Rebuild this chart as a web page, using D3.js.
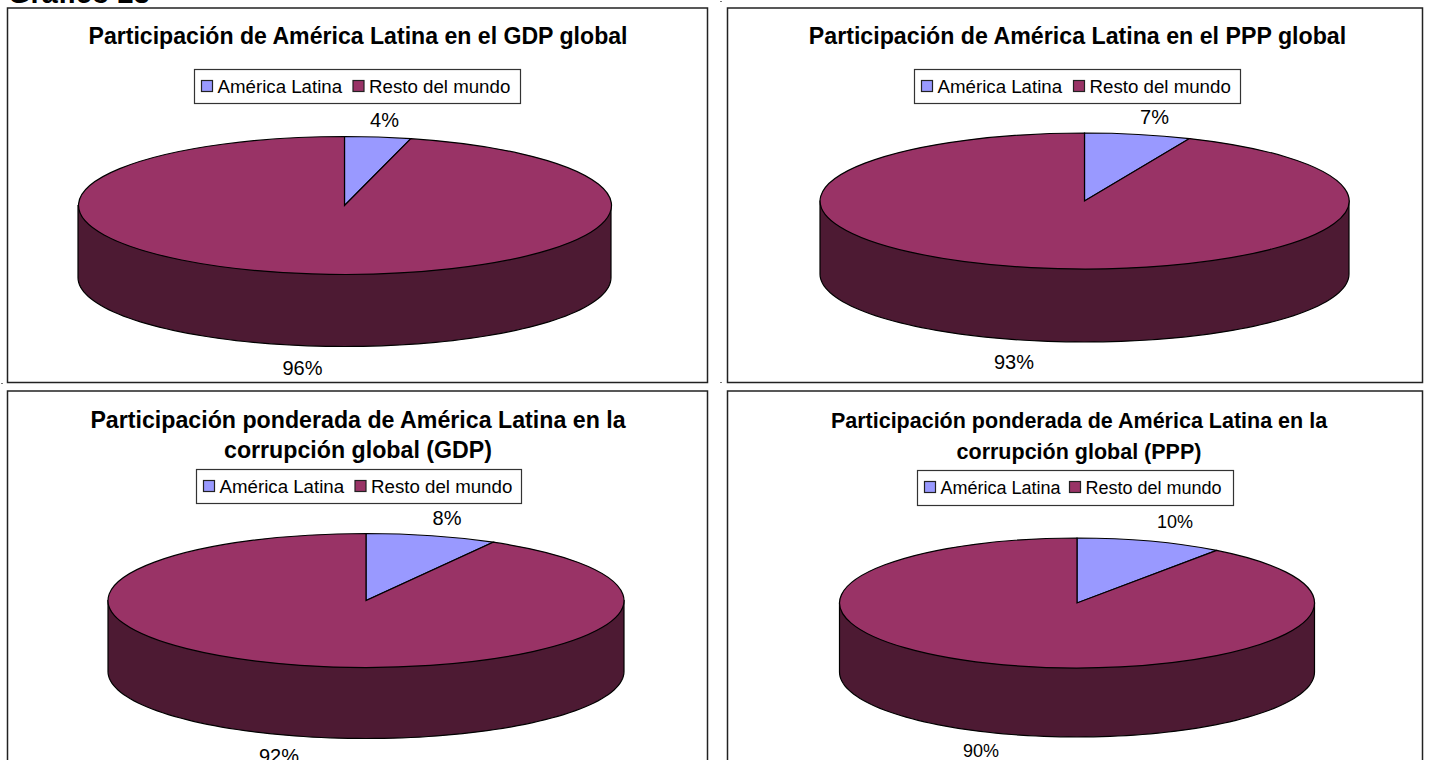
<!DOCTYPE html>
<html>
<head>
<meta charset="utf-8">
<script src="https://cdn.jsdelivr.net/npm/d3@7"></script>
<style>
  html, body { margin: 0; padding: 0; background: #fff; overflow: hidden; }
  text { font-family: "Liberation Sans", Arial, sans-serif; fill: #000; }
</style>
</head>
<body>
<script>
// values
const titles = [
    ["Participación de América Latina en el GDP global"],
    ["Participación de América Latina en el PPP global"],
    ["Participación ponderada de América Latina en la", "corrupción global (GDP)"],
    ["Participación ponderada de América Latina en la", "corrupción global (PPP)"]
]
const categories = ["América Latina", "Resto del mundo"]
const latamShare = [4, 6.5, 8.2, 10]
const restShare = [96, 93.5, 91.8, 90]
const latamLabels = ["4%", "7%", "8%", "10%"]
const restLabels = ["96%", "93%", "92%", "90%"]

const colors = d3.scaleOrdinal().domain(categories).range(["#9999ff", "#993366"])
const sideColor = "#4d1a33"

// layout of each panel
const panels = [
    { x: 7.5, y: 8, w: 700, h: 374.5, cx: 344.5, cy: 205.5, rx: 266.5, ry: 69, depth: 72,
      titleX: 358, titleY: [44], titleSize: 23.1,
      legend: [194, 69, 326, 34], second: 158.5, legendSize: 18.7,
      labelSize: 20, latam: [384.5, 127], rest: [302.5, 375] },
    { x: 727.5, y: 8, w: 695, h: 374.5, cx: 1084.5, cy: 201, rx: 264.5, ry: 68, depth: 73,
      titleX: 1077.5, titleY: [44], titleSize: 23.2,
      legend: [914, 69, 326, 34], second: 159, legendSize: 18.7,
      labelSize: 20, latam: [1154.5, 124], rest: [1014, 368.5] },
    { x: 7.5, y: 391, w: 700, h: 380, cx: 366, cy: 600.5, rx: 258, ry: 67, depth: 71,
      titleX: 358, titleY: [428, 458], titleSize: 23.2,
      legend: [196, 469, 325, 34], second: 158.5, legendSize: 18.7,
      labelSize: 20, latam: [447, 525], rest: [279, 762.5] },
    { x: 727.5, y: 391, w: 695, h: 380, cx: 1077, cy: 603, rx: 237.5, ry: 65, depth: 69,
      titleX: 1079, titleY: [428, 459], titleSize: 21.5,
      legend: [917, 470, 316, 35], second: 152, legendSize: 18,
      labelSize: 18, latam: [1175, 528], rest: [981, 757] }
]

const svg = d3.select("body")
    .append("svg")
    .attr("width", 1431)
    .attr("height", 760)

// clipped heading at the very top of the page
svg.append("text")
    .attr("x", 8)
    .attr("y", 2.5)
    .attr("font-size", 29)
    .attr("font-weight", "bold")
    .text("Gráfico 23")

// stray specks between the panels
svg.selectAll("rect.speck")
    .data([[1, 383], [720, 382], [720, 1]])
    .enter()
    .append("rect")
    .attr("class", "speck")
    .attr("x", d => d[0])
    .attr("y", d => d[1])
    .attr("width", 2)
    .attr("height", 1)
    .attr("fill", "#777")

const pie = d3.pie().sort(null)
const arc = d3.arc().innerRadius(0).outerRadius(1)

panels.forEach((p, i) => drawPanel(p, i))

function drawPanel(p, i) {
    const g = svg.append("g")

    g.append("rect")
        .attr("x", p.x).attr("y", p.y)
        .attr("width", p.w).attr("height", p.h)
        .attr("fill", "#fff")
        .attr("stroke", "#222")
        .attr("stroke-width", 1.5)

    titles[i].forEach((line, k) => {
        g.append("text")
            .attr("x", p.titleX)
            .attr("y", p.titleY[k])
            .attr("text-anchor", "middle")
            .attr("font-size", p.titleSize)
            .attr("font-weight", "bold")
            .text(line)
    })

    // legend
    const [lx, ly, lw, lh] = p.legend
    g.append("rect")
        .attr("x", lx + 0.5).attr("y", ly + 0.5)
        .attr("width", lw).attr("height", lh)
        .attr("fill", "#fff")
        .attr("stroke", "#333")
        .attr("stroke-width", 1.2)
    const offsets = [7, p.second]
    categories.forEach((c, k) => {
        g.append("rect")
            .attr("x", lx + offsets[k] + 0.5).attr("y", ly + 11.5)
            .attr("width", 11).attr("height", 11)
            .attr("fill", colors(c))
            .attr("stroke", "#222")
            .attr("stroke-width", 1.2)
        g.append("text")
            .attr("x", lx + offsets[k] + 16.5).attr("y", ly + 23.5)
            .attr("font-size", p.legendSize)
            .text(c)
    })

    // pie side: front half of the rim
    const xScale = d3.scaleLinear().domain([-1, 1]).range([p.cx - p.rx, p.cx + p.rx])
    const yScale = d3.scaleLinear().domain([-1, 1]).range([p.cy - p.ry, p.cy + p.ry])
    const rim = d3.range(0, 181, 2).map(a => a * Math.PI / 180)
    const side = d3.line()
        .x(a => xScale(Math.cos(a)))
        .y(a => yScale(Math.sin(a)) + p.depth)
    const sidePath = side(rim)
    g.append("path")
        .attr("d", "M" + xScale(1) + "," + p.cy + "L" + sidePath.slice(1) + "L" + xScale(-1) + "," + p.cy + "Z")
        .attr("fill", sideColor)
        .attr("stroke", "#000")
        .attr("stroke-width", 1.2)

    // pie top: unit arcs squeezed into an ellipse
    const slices = pie([latamShare[i], restShare[i]])
    g.append("g")
        .attr("transform", `translate(${p.cx},${p.cy}) scale(${p.rx},${p.ry})`)
        .selectAll("path")
        .data(slices)
        .enter()
        .append("path")
        .attr("d", arc)
        .attr("fill", (d, k) => colors(categories[k]))
        .attr("stroke", "#000")
        .attr("stroke-width", 1.2)
        .attr("vector-effect", "non-scaling-stroke")

    // data labels
    g.append("text")
        .attr("x", p.latam[0]).attr("y", p.latam[1])
        .attr("text-anchor", "middle")
        .attr("font-size", p.labelSize)
        .text(latamLabels[i])
    g.append("text")
        .attr("x", p.rest[0]).attr("y", p.rest[1])
        .attr("text-anchor", "middle")
        .attr("font-size", p.labelSize)
        .text(restLabels[i])
}
</script>
</body>
</html>
